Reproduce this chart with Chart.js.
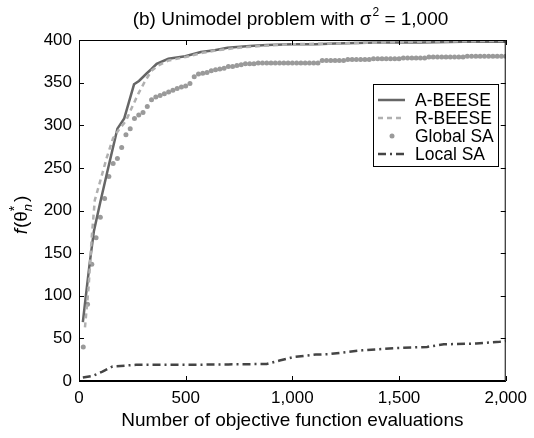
<!DOCTYPE html>
<html>
<head>
<meta charset="utf-8">
<script src="https://cdn.jsdelivr.net/npm/chart.js@4.4.0/dist/chart.umd.min.js"></script>
<style>
html, body { margin: 0; padding: 0; background: #fff; }
#wrap { width: 534px; height: 438px; }
</style>
</head>
<body>
<div id="wrap"><canvas id="graph_unimodel"></canvas></div>
<script>
// A-BEESE (solid)
const aBeeseX = [18, 30, 50, 70, 100, 134, 180, 212, 258, 281, 318, 340, 364, 419, 498, 571, 636, 696, 800, 880, 1000, 1110, 1200, 1400, 1600, 1800, 2000];
const aBeeseY = [69, 95, 138, 176, 210, 247, 296, 308, 348, 352, 361, 366, 372, 378, 381, 386, 388, 391, 393, 394, 395, 395, 396, 397, 397, 398, 398];

// R-BEESE (dashed)
const rBeeseX = [28, 45, 60, 74, 100, 130, 160, 190, 220, 250, 280, 310, 340, 370, 420, 500, 580, 650, 750, 850, 1000, 1200, 1400, 1600, 2000];
const rBeeseY = [63, 110, 170, 212, 235, 262, 285, 296, 305, 322, 338, 352, 364, 370, 376, 380, 385, 388, 391, 393, 395, 396, 397, 398, 399];

// Global SA (dots, every 20 evaluations)
const globalSaX = [];
for (let i = 1; i <= 100; i++) globalSaX.push(i * 20);
const globalSaY = [
    40, 90, 137, 168, 192, 214, 240, 255, 261, 274,
    289, 296, 308, 312, 315, 322, 330, 333, 335, 337,
    339, 341, 343, 345, 346, 349, 357, 360, 361, 362,
    364, 365, 366, 367, 369, 369, 370, 371, 372, 372,
    372, 373, 373, 373, 373, 373, 373, 373, 373, 373,
    373, 373, 373, 373, 373, 373, 376, 376, 376, 376,
    376, 376, 377, 377, 377, 377, 377, 377, 378, 378,
    378, 378, 378, 378, 378, 379, 379, 379, 379, 379,
    379, 380, 380, 380, 380, 380, 380, 380, 380, 380,
    381, 381, 381, 381, 381, 381, 381, 381, 381, 381
];

// Local SA (dash-dot)
const localSaX = [18, 64, 110, 157, 267, 500, 700, 880, 940, 1004, 1110, 1170, 1327, 1479, 1631, 1710, 1862, 1972, 2000];
const localSaY = [4, 6, 11, 17, 19, 19, 19.5, 20, 24, 28, 31, 31.5, 36, 38.5, 40, 43, 44, 46, 47];

const xTicks = [0, 500, 1000, 1500, 2000];
const yTicks = [0, 50, 100, 150, 200, 250, 300, 350, 400];

const FONT = "'Liberation Sans', Arial, sans-serif";

function toPoints(xs, ys) {
    return xs.map(function(x, i) { return { x: x, y: ys[i] }; });
}

// 안쪽 눈금, 테두리, 제목, 축 라벨, 범례
const decorPlugin = {
    id: 'decor',
    afterDraw(chart) {
        const ctx = chart.ctx;
        const area = chart.chartArea;
        const xs = chart.scales.x;
        const ys = chart.scales.y;
        ctx.save();

        // frame
        ctx.strokeStyle = '#000';
        ctx.lineWidth = 1;
        ctx.strokeRect(area.left + 0.5, area.top + 0.5, area.right - area.left - 1, area.bottom - area.top - 1);

        // inward ticks
        ctx.beginPath();
        xTicks.forEach(function(v) {
            const px = Math.round(xs.getPixelForValue(v)) + 0.5;
            ctx.moveTo(px, area.bottom); ctx.lineTo(px, area.bottom - 5);
            ctx.moveTo(px, area.top); ctx.lineTo(px, area.top + 5);
        });
        yTicks.forEach(function(v) {
            const py = Math.round(ys.getPixelForValue(v)) + 0.5;
            ctx.moveTo(area.left, py); ctx.lineTo(area.left + 5, py);
            ctx.moveTo(area.right, py); ctx.lineTo(area.right - 5, py);
        });
        ctx.stroke();

        // title with superscript
        ctx.fillStyle = '#000';
        ctx.textBaseline = 'alphabetic';
        ctx.textAlign = 'left';
        const big = '19px ' + FONT;
        const small = '12px ' + FONT;
        const t1 = '(b) Unimodel problem with \u03c3';
        const t2 = '2';
        const t3 = ' = 1,000';
        ctx.font = big;
        const w1 = ctx.measureText(t1).width;
        const w3 = ctx.measureText(t3).width;
        ctx.font = small;
        const w2 = ctx.measureText(t2).width;
        let tx = 290 - (w1 + w2 + w3) / 2;
        const ty = 25;
        ctx.font = big; ctx.fillText(t1, tx, ty); tx += w1;
        ctx.font = small; ctx.fillText(t2, tx + 1, ty - 9); tx += w2 + 1;
        ctx.font = big; ctx.fillText(t3, tx, ty);

        // y axis label f(θ*_n)
        ctx.save();
        ctx.translate(27, 215);
        ctx.rotate(-Math.PI / 2);
        ctx.font = 'italic 19px ' + FONT;
        const wf = ctx.measureText('f').width;
        ctx.font = '19px ' + FONT;
        const wo = ctx.measureText('(\u03b8').width;
        const wc = ctx.measureText(')').width;
        ctx.font = 'italic 13px ' + FONT;
        const wn = ctx.measureText('n').width;
        let lx = -(wf + wo + wn + 3 + wc) / 2;
        ctx.font = 'italic 19px ' + FONT; ctx.fillText('f', lx, 0); lx += wf + 1;
        ctx.font = '19px ' + FONT; ctx.fillText('(\u03b8', lx, 0); lx += wo;
        ctx.font = '14px ' + FONT; ctx.fillText('*', lx, -8);
        ctx.font = 'italic 13px ' + FONT; ctx.fillText('n', lx, 5); lx += wn + 2;
        ctx.font = '19px ' + FONT; ctx.fillText(')', lx, 0);
        ctx.restore();

        // legend
        const lgX = 373, lgY = 84, lgW = 125, lgH = 82;
        ctx.fillStyle = '#fff';
        ctx.fillRect(lgX, lgY, lgW, lgH);
        ctx.strokeStyle = '#000';
        ctx.lineWidth = 1;
        ctx.strokeRect(lgX + 0.5, lgY + 0.5, lgW, lgH);
        ctx.font = '17.5px ' + FONT;
        ctx.textBaseline = 'middle';
        chart.data.datasets.forEach(function(ds, i) {
            const ry = lgY + 16 + i * 18;
            if (ds.showLine) {
                ctx.strokeStyle = ds.borderColor;
                ctx.lineWidth = ds.borderWidth;
                ctx.setLineDash(ds.borderDash || []);
                ctx.beginPath();
                ctx.moveTo(lgX + 5, ry);
                ctx.lineTo(lgX + 32, ry);
                ctx.stroke();
                ctx.setLineDash([]);
            } else {
                ctx.fillStyle = ds.pointBackgroundColor;
                ctx.beginPath();
                ctx.arc(lgX + 19, ry, ds.pointRadius, 0, Math.PI * 2);
                ctx.fill();
            }
            ctx.fillStyle = '#000';
            ctx.fillText(ds.label, lgX + 42, ry + 1);
        });

        ctx.restore();
    }
};

const ctx = document.getElementById('graph_unimodel').getContext('2d');
const unimodelChart = new Chart(ctx, {
    type: 'scatter',
    data: {
        datasets: [
            {
                label: 'A-BEESE',
                data: toPoints(aBeeseX, aBeeseY),
                showLine: true,
                borderColor: '#666666',
                borderWidth: 2.5,
                pointRadius: 0,
                order: 2
            },
            {
                label: 'R-BEESE',
                data: toPoints(rBeeseX, rBeeseY),
                showLine: true,
                borderColor: '#b0b0b0',
                borderWidth: 2.5,
                borderDash: [5, 4],
                pointRadius: 0,
                order: 1
            },
            {
                label: 'Global SA',
                data: toPoints(globalSaX, globalSaY),
                showLine: false,
                pointRadius: 2.5,
                pointBackgroundColor: '#9a9a9a',
                pointBorderWidth: 0,
                order: 3
            },
            {
                label: 'Local SA',
                data: toPoints(localSaX, localSaY),
                showLine: true,
                borderColor: '#444444',
                borderWidth: 2.5,
                borderDash: [8, 4, 2, 4],
                pointRadius: 0,
                order: 4
            }
        ]
    },
    options: {
        responsive: true,
        maintainAspectRatio: false,
        animation: false,
        devicePixelRatio: 1,
        layout: { padding: { top: 40, right: 21, left: 0, bottom: 0 } },
        plugins: {
            legend: { display: false },
            title: { display: false },
            tooltip: { enabled: false }
        },
        scales: {
            x: {
                type: 'linear',
                min: 0,
                max: 2000,
                afterBuildTicks: function(scale) {
                    scale.ticks = xTicks.map(function(v) { return { value: v }; });
                },
                afterFit: function(scale) { scale.height = 57; },
                ticks: {
                    color: '#000',
                    font: { family: FONT, size: 17 },
                    padding: 7,
                    maxRotation: 0,
                    callback: function(v) { return v.toLocaleString('en-US'); }
                },
                grid: { drawOnChartArea: false, drawTicks: false },
                border: { color: '#000' },
                title: {
                    display: true,
                    text: 'Number of objective function evaluations',
                    color: '#000',
                    font: { family: FONT, size: 19 },
                    padding: { top: 6, bottom: 6 }
                }
            },
            y: {
                min: 0,
                max: 400,
                afterBuildTicks: function(scale) {
                    scale.ticks = yTicks.map(function(v) { return { value: v }; });
                },
                afterFit: function(scale) { scale.width = 79; },
                ticks: {
                    color: '#000',
                    font: { family: FONT, size: 17 },
                    padding: 7
                },
                grid: { drawOnChartArea: false, drawTicks: false },
                border: { color: '#000' }
            }
        }
    },
    plugins: [decorPlugin]
});
</script>
</body>
</html>
